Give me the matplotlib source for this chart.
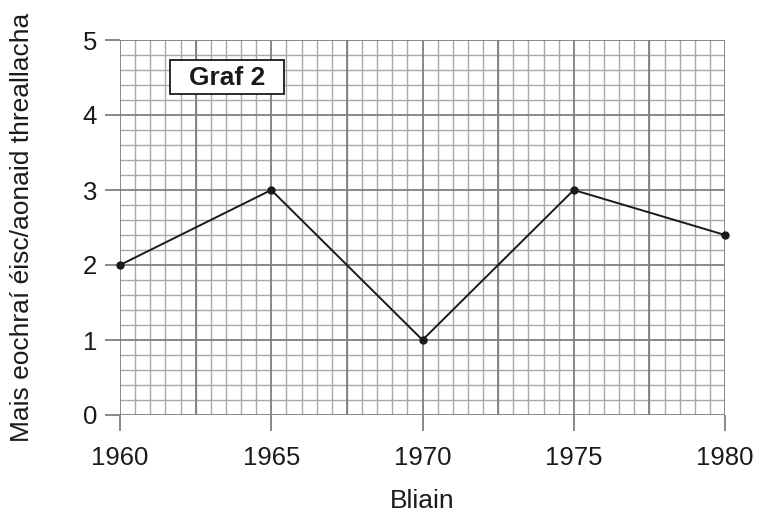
import matplotlib
matplotlib.use("Agg")
import matplotlib.pyplot as plt
from matplotlib.patches import Rectangle
import numpy as np

years = [1960, 1965, 1970, 1975, 1980]
values = [2, 3, 1, 3, 2.4]
x_ticks = [1960, 1965, 1970, 1975, 1980]
y_ticks = [0, 1, 2, 3, 4, 5]
title_text = "Graf 2"
x_label = "Bliain"
y_label = "Mais eochraí éisc/aonaid threallacha"

plt.rcParams['font.family'] = ['Liberation Sans', 'DejaVu Sans']

fig = plt.figure(figsize=(7.58, 5.15), dpi=100)
ax = fig.add_axes([120/758, 1-415/515, 605/758, 375/515])

ax.set_xlim(1960, 1980)
ax.set_ylim(0, 5)

# grid lines
ax.set_xticks(np.arange(1960, 1980.01, 0.5), minor=True)
ax.set_yticks(np.arange(0, 5.01, 0.2), minor=True)
ax.grid(which='minor', color='#a8a8a8', linewidth=1.0)
for xv in np.arange(1960, 1980.01, 2.5):
    ax.axvline(xv, color='#7f7f7f', linewidth=1.3, zorder=1)
for yv in y_ticks:
    ax.axhline(yv, color='#7f7f7f', linewidth=1.3, zorder=1)
ax.set_axisbelow(True)

for s in ax.spines.values():
    s.set_visible(False)

ax.set_xticks(x_ticks)
ax.set_yticks(y_ticks)
ax.tick_params(which='major', width=1.3, color='#7f7f7f',
               labelsize=18.5, labelcolor='#1a1a1a')
ax.tick_params(axis='x', which='major', length=11.5, pad=11)
ax.tick_params(axis='y', which='major', length=11, pad=5.5)
ax.tick_params(which='minor', length=0)

ax.plot(years, values, color='#1a1a1a', linewidth=1.4, marker='o',
        markersize=5, zorder=5, clip_on=False)

ax.add_patch(Rectangle((0.0826, 0.856), 0.1884, 0.091, transform=ax.transAxes,
                       facecolor='white', edgecolor='#1a1a1a', linewidth=1.3, zorder=6))
ax.text(0.177, 0.88, title_text, transform=ax.transAxes, ha='center', va='baseline',
        fontsize=19, fontweight='bold', color='#1a1a1a', zorder=7)

ax.set_xlabel(x_label, fontsize=19, labelpad=13.5, color='#1a1a1a')
ax.set_ylabel(y_label, fontsize=19, color='#1a1a1a')
ax.yaxis.set_label_coords(-0.142, 0.5)

fig.savefig("out.png", dpi=100)
